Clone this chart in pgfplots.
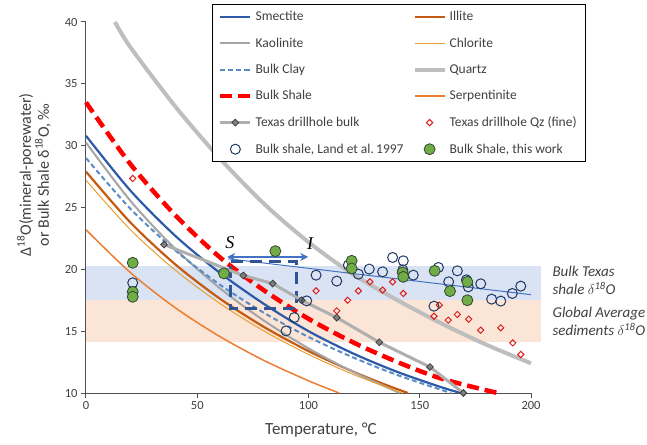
\documentclass[border=0pt]{standalone}
\usepackage{fontspec}
\setmainfont{Carlito}
\newfontfamily\serifit{Liberation Serif}[ItalicFont={* Italic}]
\usepackage{pgfplots}
\pgfplotsset{compat=1.18}
\usetikzlibrary{arrows.meta}
\definecolor{smect}{RGB}{46,90,170}
\definecolor{kaol}{RGB}{165,165,165}
\definecolor{bclay}{RGB}{91,140,200}
\definecolor{bshale}{RGB}{255,0,0}
\definecolor{illite}{RGB}{197,90,17}
\definecolor{chlor}{RGB}{230,160,50}
\definecolor{quartz}{RGB}{190,190,190}
\definecolor{serp}{RGB}{237,125,49}
\definecolor{texline}{RGB}{175,175,175}
\definecolor{texfill}{RGB}{128,128,128}
\definecolor{texdraw}{RGB}{60,60,60}
\definecolor{qz}{RGB}{220,30,30}
\definecolor{land}{RGB}{31,56,100}
\definecolor{grn}{RGB}{112,173,71}
\definecolor{grndraw}{RGB}{50,70,50}
\definecolor{bandblue}{RGB}{218,227,243}
\definecolor{bandpeach}{RGB}{251,229,214}
\definecolor{axgray}{RGB}{80,80,80}
\definecolor{txtgray}{RGB}{64,64,64}
\definecolor{arrowblue}{RGB}{68,114,196}
\definecolor{boxblue}{RGB}{47,85,151}
\begin{document}
\begin{tikzpicture}[x=1pt,y=1pt]
\begin{axis}[
  at={(0,0)}, anchor=south west,
  scale only axis, width=445pt, height=371pt,
  xmin=0, xmax=200, ymin=10, ymax=40,
  axis x line=bottom, axis y line=left,
  axis line style={-, draw=axgray, line width=1pt},
  xtick={0,50,...,200}, ytick={10,15,...,40},
  tick align=outside, major tick length=5pt,
  tick style={draw=axgray, line width=1pt},
  clip=false,
  /pgf/number format/assume math mode=true,
  ticklabel style={font=\fontsize{12.5}{14}\selectfont, text=txtgray},
  xlabel={Temperature, °C},
  xlabel style={at={(axis description cs:0.528,-0.0997)}, anchor=center, font=\fontsize{17}{19}\selectfont, text=txtgray},
  ylabel={Δ\textsuperscript{18}O(mineral-porewater)\\or Bulk Shale δ\textsuperscript{18}O, ‰},
  ylabel style={at={(axis description cs:-0.117,0.588)}, anchor=center, align=center, font=\fontsize{16}{18}\selectfont, text=txtgray},
  legend image code/.code={\draw[mark repeat=2,mark phase=2,#1] plot coordinates {(0pt,0pt)(15pt,0pt)(30pt,0pt)};},
  legend style={at={(0.2825,1.0485)}, anchor=north west, draw=black, line width=0.8pt, fill=white,
    font=\fontsize{13.5}{15}\selectfont, text=txtgray, legend columns=2, legend cell align=left,
    /tikz/every even column/.append style={column sep=6pt},
    row sep=9.5pt, nodes={inner sep=3pt}, inner xsep=6pt, inner ysep=4pt},
]
% bands
\addplot[fill=bandblue, draw=none, forget plot] coordinates {(0,17.5)(204.5,17.5)(204.5,20.25)(0,20.25)} -- cycle;
\addplot[fill=bandpeach, draw=none, forget plot] coordinates {(0,14.15)(204.5,14.15)(204.5,17.5)(0,17.5)} -- cycle;

% curves (legend order)
\addplot[smect, line width=2.2pt, smooth] coordinates {(0,30.8)(20,26.36)(40,22.73)(60,19.74)(80,17.2)(100,15.0)(120,13.2)(140,11.7)(160,10.45)(168.5,10)};
\addlegendentry{Smectite}
\addplot[illite, line width=2.2pt, smooth] coordinates {(0,27.9)(20,23.78)(40,20.42)(60,17.65)(80,15.34)(100,13.39)(120,11.73)(135,10.64)(144.7,10.0)};
\addlegendentry{Illite}
\addplot[kaol, line width=2pt, smooth] coordinates {(0,30.25)(20,25.53)(40,21.68)(60,18.50)(80,15.85)(100,13.61)(120,11.71)(141,10.0)};
\addlegendentry{Kaolinite}
\addplot[chlor, line width=1pt, smooth] coordinates {(0,27.2)(20,23.2)(40,19.95)(60,17.26)(80,15.01)(100,13.12)(120,11.51)(142,10.0)};
\addlegendentry{Chlorite}
\addplot[bclay, line width=2pt, dash pattern=on 5pt off 3pt, smooth] coordinates {(0,29.0)(20,24.89)(40,21.55)(60,18.78)(80,16.48)(100,14.53)(120,12.88)(140,11.45)(164,10.0)};
\addlegendentry{Bulk Clay}
\addplot[quartz, line width=4pt, smooth] coordinates {(13,40)(20,37.95)(40,33.2)(60,29.0)(80,25.3)(100,22.2)(120,19.6)(140,17.5)(160,15.6)(180,13.9)(200,12.4)};
\addlegendentry{Quartz}
\addplot[bshale, line width=4.5pt, dash pattern=on 12pt off 6pt, smooth] coordinates {(0,33.5)(20,28.5)(40,24.4)(60,21.0)(80,18.3)(100,16.0)(120,14.1)(140,12.5)(160,11.15)(185,10.0)};
\addlegendentry{Bulk Shale}
\addplot[serp, line width=1.5pt, smooth] coordinates {(0,23.2)(20,19.73)(40,16.91)(60,14.58)(80,12.63)(100,10.99)(113.8,10.0)};
\addlegendentry{Serpentinite}

% thin blue trend, dashed box, arrow
\addplot[arrowblue, line width=1pt, forget plot] coordinates {(64,20.85)(200,17.95)};
\addplot[boxblue, line width=3pt, dash pattern=on 12pt off 7pt, forget plot] coordinates {(65,20.6)(94.7,20.6)(94.7,16.83)(65,16.83)} -- cycle;
\addplot[arrowblue, line width=2pt, {Stealth[length=8pt,width=8pt]}-{Stealth[length=8pt,width=8pt]}, forget plot] coordinates {(63.5,21.0)(99.9,21.0)};

\addplot[texline, line width=3pt, mark=square*, mark size=2.4pt, mark options={rotate=45, fill=texfill, draw=texdraw, line width=0.8pt}] coordinates {(35.1,22.0)(70.7,19.5)(83.9,18.85)(96.9,17.5)(112.7,16.1)(131.8,14.1)(154.6,12.1)(169.6,10.0)};
\addlegendentry{Texas drillhole bulk}
\addplot[only marks, mark=square, mark size=2.2pt, mark options={rotate=45, draw=qz, line width=1pt}] coordinates {(21,27.35)(103.4,18.26)(112.7,16.64)(117.6,17.5)(122.4,18.26)(127.6,18.99)(133.3,18.32)(137.8,18.99)(142.6,18.05)(156.4,16.21)(158.8,17.1)(162.8,15.89)(166.9,16.35)(172,15.97)(177.4,15.08)(186.4,15.27)(191.8,14.05)(195.4,13.11)};
\addlegendentry{Texas drillhole Qz (fine)}
\addplot[only marks, mark=o, mark size=5pt, mark options={draw=land, line width=1pt}] coordinates {(21,18.91)(89.9,15.02)(93.6,16.1)(99.2,17.45)(103.4,19.53)(112.7,19.05)(117.9,20.34)(122.4,19.61)(127.3,20.02)(133.3,19.8)(137.8,20.96)(142.6,20.69)(147.1,19.53)(142.4,19.95)(156.4,17.02)(158.4,20.15)(163,18.99)(166.9,19.88)(171.0,19.15)(171.8,18.58)(177.4,18.83)(182.3,17.59)(186.4,17.43)(191.6,18.05)(195.4,18.64)};
\addlegendentry{Bulk shale, Land et al.\,1997}
\addplot[only marks, mark=*, mark size=5.5pt, mark options={fill=grn, draw=grndraw, line width=0.8pt}] coordinates {(21,20.53)(21,18.18)(21,17.78)(62,19.67)(85.1,21.47)(119.4,20.69)(119.4,20.07)(142.3,19.75)(142.6,19.39)(156.7,19.88)(163.6,18.24)(171.4,18.99)(171.4,17.5)};
\addlegendentry{Bulk Shale, this work}

\node[font=\serifit\itshape\fontsize{18}{20}\selectfont] at (axis cs:64.7,22.12) {S};
\node[font=\serifit\itshape\fontsize{18}{20}\selectfont] at (axis cs:100.7,22.12) {I};
\node[anchor=west, align=left, font=\itshape\fontsize{15}{18}\selectfont, text=txtgray] at (axis cs:208.1,19.09) {Bulk Texas\\shale $\delta$\textsuperscript{18}O};
\node[anchor=west, align=left, font=\itshape\fontsize{15}{18}\selectfont, text=txtgray] at (axis cs:208.1,15.77) {Global Average\\sediments $\delta$\textsuperscript{18}O};
\end{axis}
\pgfresetboundingbox
\path[use as bounding box] (-86pt,-51pt) rectangle (561pt,393pt);
\end{tikzpicture}
\end{document}
